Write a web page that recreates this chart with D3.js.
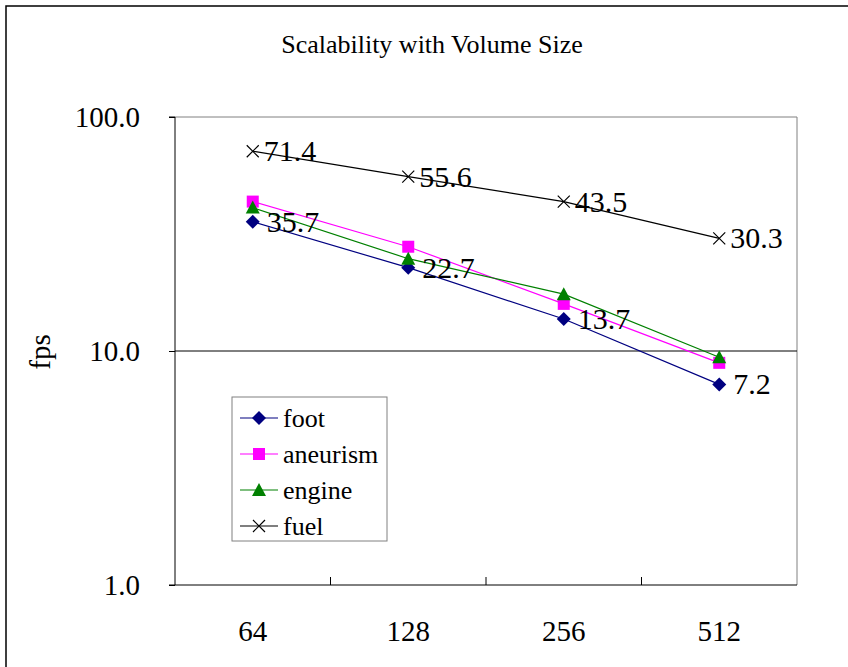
<!DOCTYPE html>
<html>
<head>
<meta charset="utf-8">
<script src="https://cdn.jsdelivr.net/npm/d3@7"></script>
<style>
  body { margin: 0; background: #fff; }
  svg { display: block; }
  text { font-family: "Liberation Serif", "Times New Roman", serif; fill: #000; }
</style>
</head>
<body>
<svg id="chart" width="848" height="667"></svg>
<script>
// volume sizes and fps per dataset (log scale chart)
const sizes = ["64", "128", "256", "512"];
const foot = [35.7, 22.7, 13.7, 7.2];
const aneurism = [43.5, 27.9, 15.9, 8.9];
const engine = [41.0, 24.8, 17.5, 9.4];
const fuel = [71.4, 55.6, 43.5, 30.3];
const yTicks = [1, 10, 100];

const series = [
    { name: "foot", values: foot, color: "#000080", marker: "diamond", labels: true },
    { name: "aneurism", values: aneurism, color: "#FF00FF", marker: "square", labels: false },
    { name: "engine", values: engine, color: "#008000", marker: "triangle", labels: false },
    { name: "fuel", values: fuel, color: "#000000", marker: "cross", labels: true }
];

const svg = d3.select("#chart");
const plot = { left: 175, top: 117, right: 797, bottom: 585 };

const x = d3.scaleBand().domain(sizes).range([plot.left, plot.right]);
const y = d3.scaleLog().domain([1, 100]).range([plot.bottom, plot.top]);

// outer chart frame (runs off the right and bottom edges)
svg.append("rect")
    .attr("x", 6).attr("y", 6)
    .attr("width", 900).attr("height", 700)
    .attr("fill", "none")
    .attr("stroke", "#000")
    .attr("stroke-width", 1.5);

svg.append("text")
    .attr("x", 432).attr("y", 53)
    .attr("text-anchor", "middle")
    .style("font-size", "26px")
    .text("Scalability with Volume Size");

// plot area border: gray top/right
svg.append("path")
    .attr("d", `M${plot.left},${plot.top}H${plot.right}V${plot.bottom}`)
    .attr("fill", "none")
    .attr("stroke", "#808080")
    .attr("stroke-width", 1);

// major gridline at 10
svg.append("g").selectAll("line")
    .data(yTicks.filter(d => d > 1 && d < 100))
    .join("line")
    .attr("x1", plot.left).attr("x2", plot.right)
    .attr("y1", d => y(d)).attr("y2", d => y(d))
    .attr("stroke", "#000");

const yAxis = svg.append("g")
    .attr("transform", `translate(${plot.left},0)`)
    .call(d3.axisLeft(y).tickValues(yTicks).tickFormat(d3.format(".1f")).tickSize(6).tickPadding(29));
yAxis.select(".domain").attr("d", `M-6,${plot.top}H0V${plot.bottom}H-6`);
yAxis.selectAll("text")
    .style("font-size", "29px")
    .style("font-family", "Liberation Serif, Times New Roman, serif")
    .attr("fill", "#000");

const xAxis = svg.append("g")
    .attr("transform", `translate(0,${plot.bottom})`)
    .call(d3.axisBottom(x).tickSize(0).tickPadding(35));
xAxis.select(".domain").attr("d", `M${plot.left},0H${plot.right}`);
xAxis.selectAll("text")
    .style("font-size", "29px")
    .style("font-family", "Liberation Serif, Times New Roman, serif")
    .attr("fill", "#000");
// category boundary ticks, pointing up
xAxis.append("g").selectAll("line")
    .data(sizes.slice(1))
    .join("line")
    .attr("x1", d => x(d)).attr("x2", d => x(d))
    .attr("y1", 0).attr("y2", -8)
    .attr("stroke", "#000");

svg.append("text")
    .attr("transform", `translate(50,352) rotate(-90)`)
    .attr("text-anchor", "middle")
    .style("font-size", "29px")
    .text("fps");

function drawMarker(g, type, color) {
    if (type === "diamond") {
        g.append("path").attr("d", "M0,-7L7,0L0,7L-7,0Z").attr("fill", color);
    } else if (type === "square") {
        g.append("rect").attr("x", -6).attr("y", -6).attr("width", 12).attr("height", 12).attr("fill", color);
    } else if (type === "triangle") {
        g.append("path").attr("d", "M0,-7L7,6L-7,6Z").attr("fill", color);
    } else {
        g.append("path").attr("d", "M-6,-6L6,6M-6,6L6,-6").attr("stroke", color).attr("stroke-width", 1.2).attr("fill", "none");
    }
}

const cx = d => x(d) + x.bandwidth() / 2;
const line = d3.line().x(d => cx(d.size)).y(d => y(d.v));

series.forEach(s => {
    const pts = sizes.map((size, i) => ({ size: size, v: s.values[i] }));
    svg.append("path")
        .datum(pts)
        .attr("d", line)
        .attr("fill", "none")
        .attr("stroke", s.color)
        .attr("stroke-width", 1.2);
    pts.forEach(p => {
        const g = svg.append("g").attr("transform", `translate(${cx(p.size)},${y(p.v)})`);
        drawMarker(g, s.marker, s.color);
    });
});

// data labels on foot and fuel
series.filter(s => s.labels).forEach(s => {
    svg.append("g").selectAll("text")
        .data(sizes.map((size, i) => ({ size: size, v: s.values[i] })))
        .join("text")
        .attr("x", d => cx(d.size) + (s.marker === "diamond" ? 14 : 11))
        .attr("y", d => y(d.v) + 10)
        .style("font-size", "30px")
        .text(d => d3.format(".1f")(d.v));
});

// legend
const legend = svg.append("g").attr("transform", "translate(232,397)");
legend.append("rect")
    .attr("width", 155).attr("height", 144)
    .attr("fill", "#fff")
    .attr("stroke", "#808080");
series.forEach((s, i) => {
    const row = legend.append("g").attr("transform", `translate(0,${21 + i * 36})`);
    row.append("line")
        .attr("x1", 8).attr("x2", 46)
        .attr("stroke", s.color)
        .attr("stroke-width", 1.2);
    drawMarker(row.append("g").attr("transform", "translate(27,0)"), s.marker, s.color);
    row.append("text")
        .attr("x", 51).attr("y", 9)
        .style("font-size", "26px")
        .text(s.name);
});
</script>
</body>
</html>
